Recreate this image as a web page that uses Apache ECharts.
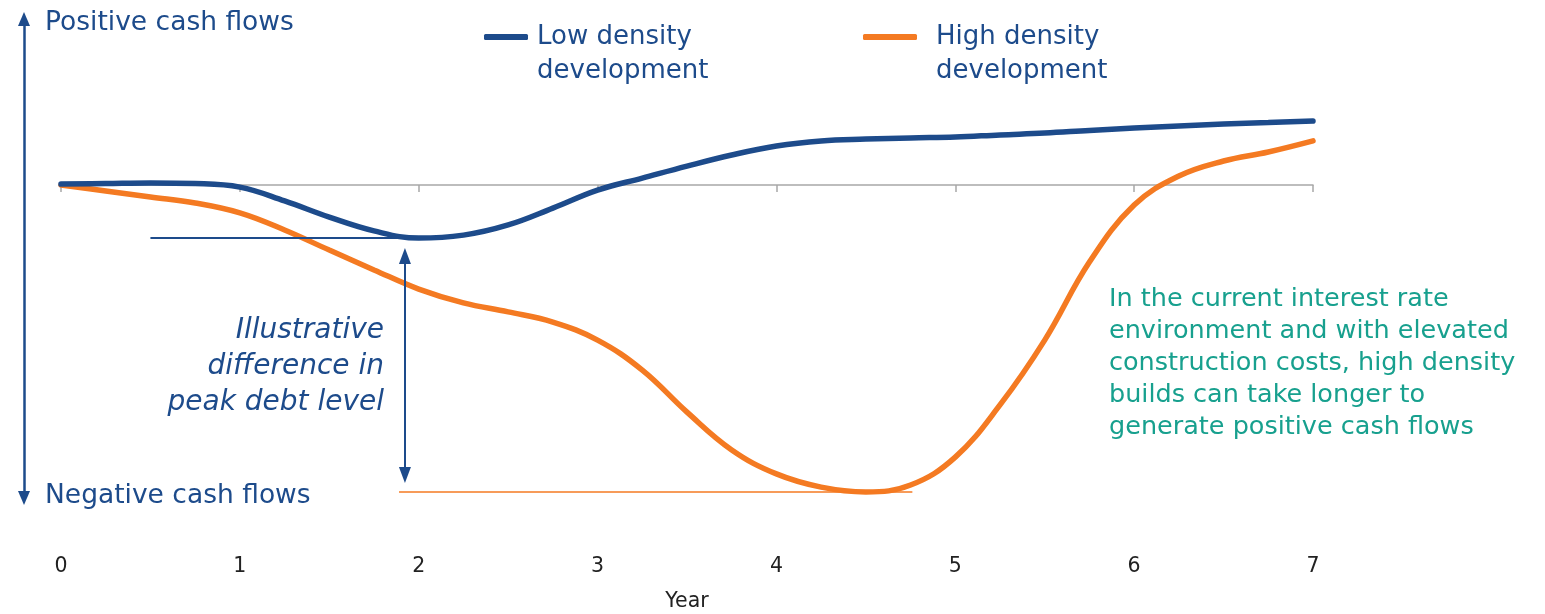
<!DOCTYPE html>
<html>
<head>
<meta charset="utf-8">
<script src="https://cdn.jsdelivr.net/npm/echarts@6/dist/echarts.min.js"></script>
<style>
html,body{margin:0;padding:0;background:#fff;}
#chart{width:1545px;height:614px;}
</style>
</head>
<body>
<div id="chart"></div>
<script>
// ---- data (illustrative cash-flow index, 0 = break-even) ----
const years = [0,0.25,0.5,0.75,1,1.25,1.5,1.75,2,2.25,2.5,2.75,3,3.25,3.5,3.75,4,4.25,4.5,4.75,5,5.25,5.5,5.75,6,6.25,6.5,6.75,7];
const lowDensity  = [0.3,0.5,0.7,0.5,-0.7,-5.3,-10.7,-15.3,-17.7,-16.7,-13.3,-7.7,-1.7,2.3,6.3,10.0,13.0,14.7,15.3,15.7,16.0,16.7,17.3,18.2,19.0,19.7,20.3,20.8,21.3];
const highDensity = [0,-2,-4,-6,-9.3,-15,-21.7,-28.3,-34.7,-39.3,-42.3,-45.7,-51.7,-61.7,-75.7,-88.3,-96.3,-100.7,-102.3,-100,-90.7,-73.3,-51.7,-25.7,-6.7,3,8,11,14.7];
const xTicks = [0,1,2,3,4,5,6,7];
const seriesNames = ['Low density development','High density development'];
// annotation levels
const lowPeak = -17.7, highPeak = -102.3;
const lowPeakSpan = [0.5, 2.0];
const highPeakSpan = [1.89, 4.76];
const diffArrowX = 1.923;
const diffArrowEnds = [-23.7, -96.7];

const NAVY = '#1D4B8B', ORANGE = '#F47A22', TEAL = '#17A08E', GRAY = '#A8A8A8';
const FONT = 'DejaVu Sans';

const chart = echarts.init(document.getElementById('chart'), null, {renderer:'canvas'});
const pair = (xs, ys) => xs.map((x,i)=>[x, ys[i]]);

function legendFor(name, left, iconW, gapLeft){
  return {
    orient:'horizontal', top:-10, left:left, padding:0, itemHeight:6, itemWidth:iconW, itemGap:0,
    icon:'roundRect', data:[name],
    textStyle:{fontFamily:FONT, fontSize:26, color:NAVY,
      rich:{
        e:{fontSize:26, lineHeight:34, color:NAVY},
        a:{fontFamily:FONT, fontSize:26, lineHeight:34, color:NAVY, padding:[0,0,0,gapLeft]}
      }},
    formatter: n => '{e| }\n{a|' + n.replace(' development','}\n{a|development}')
  };
}

chart.setOption({
  animation:false,
  grid:{left:61, right:232, top:19, bottom:116, outerBoundsMode:'none', containLabel:false},
  legend:[
    legendFor(seriesNames[0], 484, 44, 4),
    legendFor(seriesNames[1], 863, 54, 14)
  ],
  xAxis:[
    {type:'value', min:0, max:7, interval:1,
     axisLine:{onZero:true, lineStyle:{color:GRAY, width:1.5}},
     axisTick:{show:true, length:7, lineStyle:{color:GRAY, width:1.5}},
     axisLabel:{show:false}, splitLine:{show:false}},
    {type:'value', min:0, max:7, interval:1, position:'bottom',
     axisLine:{show:false, onZero:false}, axisTick:{show:false}, splitLine:{show:false},
     axisLabel:{margin:58, fontFamily:FONT, fontSize:20.5, color:'#222',
       formatter: v => xTicks.includes(v) ? String(v) : ''},
     name:'Year', nameLocation:'middle', nameGap:93,
     nameTextStyle:{fontFamily:FONT, fontSize:20.5, color:'#222'}}
  ],
  yAxis:{type:'value', min:-104.33, max:55.33, position:'left', offset:37,
    axisLine:{show:true, onZero:false, symbol:['triangle','triangle'], symbolSize:[12,14],
      lineStyle:{color:NAVY, width:2.5}},
    axisTick:{show:false}, axisLabel:{show:false}, splitLine:{show:false}},
  series:[
    {name:seriesNames[0], type:'line', xAxisIndex:0, data:pair(years, lowDensity), smooth:0.4,
     showSymbol:false, symbol:'none', color:NAVY,
     lineStyle:{width:5.5, color:NAVY, cap:'round'}, z:5,
     markLine:{silent:true, animation:false, label:{show:false},
       data:[
        [{coord:[lowPeakSpan[0], lowPeak], symbol:'none'},{coord:[lowPeakSpan[1], lowPeak], symbol:'none'}],
        [{coord:[diffArrowX, diffArrowEnds[0]], symbol:'triangle', symbolSize:[12,16]},
         {coord:[diffArrowX, diffArrowEnds[1]], symbol:'triangle', symbolSize:[12,16]}]
       ],
       lineStyle:{color:NAVY, width:2, type:'solid'}}},
    {name:seriesNames[1], type:'line', xAxisIndex:0, data:pair(years, highDensity), smooth:0.4,
     showSymbol:false, symbol:'none', color:ORANGE,
     lineStyle:{width:5.5, color:ORANGE, cap:'round'}, z:4,
     markLine:{silent:true, animation:false, label:{show:false}, symbol:'none',
       data:[[{coord:[highPeakSpan[0], highPeak]},{coord:[highPeakSpan[1], highPeak]}]],
       lineStyle:{color:ORANGE, width:1.5, type:'solid'}}}
  ],
  graphic:[
    {type:'text', style:{x:45, y:23, text:'Positive cash flows', fontFamily:FONT, fontSize:26.5, fill:NAVY, verticalAlign:'middle'}},
    {type:'text', style:{x:45, y:496, text:'Negative cash flows', fontFamily:FONT, fontSize:26.5, fill:NAVY, verticalAlign:'middle'}},
    {type:'text', style:{x:384, y:367, text:'Illustrative\ndifference in\npeak debt level', fontFamily:FONT, fontStyle:'italic', fontSize:28, lineHeight:36, fill:NAVY, align:'right', verticalAlign:'middle'}},
    {type:'text', style:{x:1109, y:363, text:'In the current interest rate\nenvironment and with elevated\nconstruction costs, high density\nbuilds can take longer to\ngenerate positive cash flows', fontFamily:FONT, fontSize:25.5, lineHeight:32, fill:TEAL, verticalAlign:'middle'}}
  ]
});
</script>
</body>
</html>
